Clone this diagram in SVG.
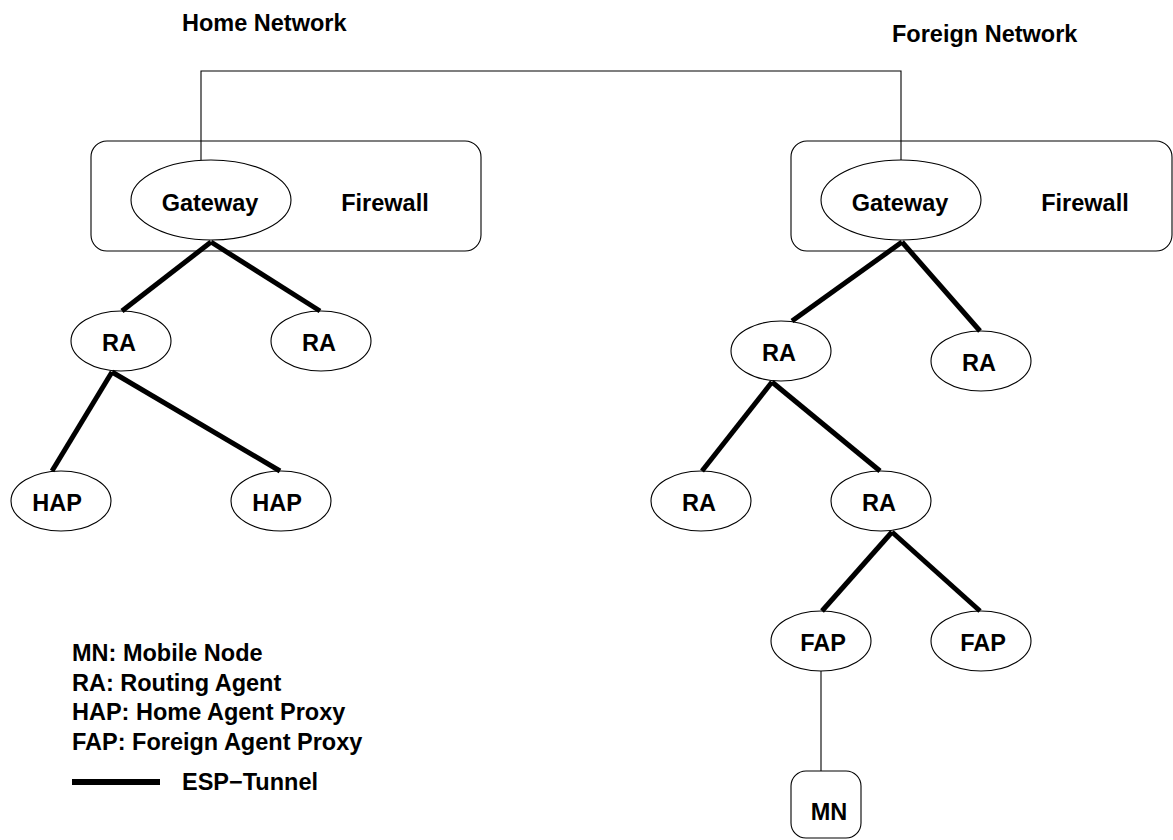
<svg xmlns="http://www.w3.org/2000/svg" width="1173" height="840" viewBox="0 0 1173 840">
<style>
text{font-family:"Liberation Sans",Arial,sans-serif;font-weight:bold;font-size:23.5px;fill:#000}
.c{text-anchor:middle}
.shape{fill:none;stroke:#000;stroke-width:1.1}
.thin{fill:none;stroke:#000;stroke-width:1.1}
.tunnel{fill:none;stroke:#000;stroke-width:5}
</style>
<rect width="1173" height="840" fill="#fff"/>
<text id="title-home" x="182" y="31">Home Network</text>
<text id="title-foreign" x="892" y="42">Foreign Network</text>
<g id="firewall-home"><rect class="shape" x="91" y="141" width="390" height="110" rx="16"/><text class="c" x="385" y="211">Firewall</text></g>
<g id="firewall-foreign"><rect class="shape" x="791" y="141" width="381" height="110" rx="16"/><text class="c" x="1085" y="211">Firewall</text></g>
<g id="connectors">
<polyline class="thin" points="201,160 201,71 901,71 901,160"/>
<line class="thin" x1="821" y1="671" x2="821" y2="771"/>
<line class="tunnel" x1="211" y1="242" x2="122" y2="311"/>
<line class="tunnel" x1="211" y1="242" x2="320" y2="311"/>
<line class="tunnel" x1="112" y1="372" x2="52" y2="471"/>
<line class="tunnel" x1="112" y1="372" x2="280" y2="471"/>
<line class="tunnel" x1="902" y1="242" x2="792" y2="321"/>
<line class="tunnel" x1="902" y1="242" x2="980" y2="331"/>
<line class="tunnel" x1="772" y1="382" x2="702" y2="471"/>
<line class="tunnel" x1="772" y1="382" x2="880" y2="471"/>
<line class="tunnel" x1="892" y1="532" x2="822" y2="611"/>
<line class="tunnel" x1="892" y1="532" x2="980" y2="611"/>
</g>
<g id="gw-home"><ellipse class="shape" cx="211" cy="200" rx="80" ry="40"/><text class="c" x="210" y="211">Gateway</text></g>
<g id="gw-foreign"><ellipse class="shape" cx="901" cy="200" rx="80" ry="40"/><text class="c" x="900" y="211">Gateway</text></g>
<g id="ra-h1"><ellipse class="shape" cx="121" cy="341" rx="50" ry="30"/><text class="c" x="119" y="351">RA</text></g>
<g id="ra-h2"><ellipse class="shape" cx="321" cy="341" rx="50" ry="30"/><text class="c" x="319" y="351">RA</text></g>
<g id="hap-1"><ellipse class="shape" cx="61" cy="501" rx="50" ry="30"/><text class="c" x="57" y="511">HAP</text></g>
<g id="hap-2"><ellipse class="shape" cx="281" cy="501" rx="50" ry="30"/><text class="c" x="277" y="511">HAP</text></g>
<g id="ra-f1"><ellipse class="shape" cx="781" cy="351" rx="50" ry="30"/><text class="c" x="779" y="361">RA</text></g>
<g id="ra-f2"><ellipse class="shape" cx="981" cy="361" rx="50" ry="30"/><text class="c" x="979" y="371">RA</text></g>
<g id="ra-f3"><ellipse class="shape" cx="701" cy="501" rx="50" ry="30"/><text class="c" x="699" y="511">RA</text></g>
<g id="ra-f4"><ellipse class="shape" cx="881" cy="501" rx="50" ry="30"/><text class="c" x="879" y="511">RA</text></g>
<g id="fap-1"><ellipse class="shape" cx="821" cy="641" rx="50" ry="30"/><text class="c" x="823" y="651">FAP</text></g>
<g id="fap-2"><ellipse class="shape" cx="981" cy="641" rx="50" ry="30"/><text class="c" x="983" y="651">FAP</text></g>
<g id="mn"><rect class="shape" x="791" y="771" width="70" height="67" rx="15"/><text class="c" x="829" y="820">MN</text></g>
<g id="legend">
<text x="72" y="661">MN: Mobile Node</text>
<text x="72" y="691">RA: Routing Agent</text>
<text x="72" y="720">HAP: Home Agent Proxy</text>
<text x="72" y="750">FAP: Foreign Agent Proxy</text>
<line x1="72" y1="782" x2="160" y2="782" stroke="#000" stroke-width="6"/>
<text x="182" y="790">ESP−Tunnel</text>
</g>
</svg>
